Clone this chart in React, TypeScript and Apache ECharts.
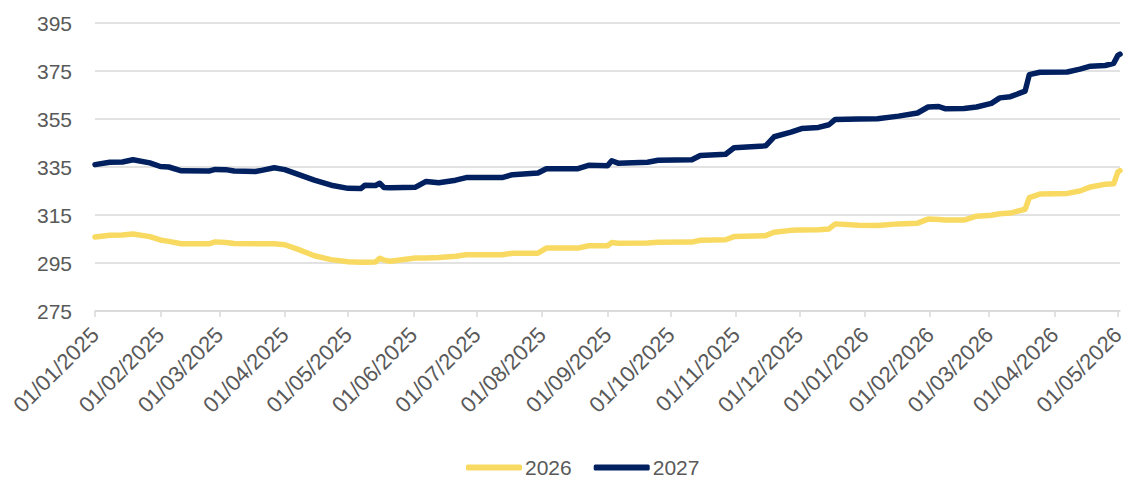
import React, { useEffect, useRef } from "react";
import * as echarts from "echarts";

const dates: string[] = [
  "2025-01-01", "2025-01-08", "2025-01-14", "2025-01-19", "2025-01-27",
  "2025-02-01", "2025-02-05", "2025-02-11", "2025-02-24", "2025-02-27",
  "2025-03-04", "2025-03-08", "2025-03-18", "2025-03-21", "2025-03-27",
  "2025-04-01", "2025-04-07", "2025-04-15", "2025-04-23", "2025-05-01",
  "2025-05-07", "2025-05-09", "2025-05-14", "2025-05-16", "2025-05-18",
  "2025-05-21", "2025-06-02", "2025-06-07", "2025-06-13", "2025-06-21",
  "2025-06-26", "2025-07-13", "2025-07-18", "2025-07-30", "2025-08-03",
  "2025-08-18", "2025-08-23", "2025-09-01", "2025-09-03", "2025-09-06",
  "2025-09-20", "2025-09-25", "2025-10-11", "2025-10-15", "2025-10-27",
  "2025-10-31", "2025-11-15", "2025-11-19", "2025-11-27", "2025-12-02",
  "2025-12-10", "2025-12-15", "2025-12-18", "2025-12-29", "2026-01-07",
  "2026-01-17", "2026-01-26", "2026-01-31", "2026-02-05", "2026-02-08",
  "2026-02-17", "2026-02-23", "2026-03-02", "2026-03-06", "2026-03-11",
  "2026-03-18", "2026-03-20", "2026-03-25", "2026-04-07", "2026-04-13",
  "2026-04-18", "2026-04-25", "2026-04-29", "2026-05-01", "2026-05-02",
];

const values2026: number[] = [
  305.8, 306.6, 306.7, 307.1, 306.0,
  304.6, 304.0, 303.0, 303.0, 303.8,
  303.5, 303.1, 303.0, 303.0, 303.0,
  302.6, 300.8, 298.0, 296.4, 295.5,
  295.3, 295.3, 295.4, 297.0, 296.2,
  295.7, 297.1, 297.1, 297.3, 297.8,
  298.4, 298.4, 299.1, 299.1, 301.2,
  301.2, 302.2, 302.2, 303.5, 303.2,
  303.3, 303.6, 303.7, 304.5, 304.7,
  306.0, 306.4, 307.8, 308.6, 308.8,
  308.9, 309.2, 311.3, 310.7, 310.6,
  311.3, 311.6, 313.3, 313.1, 312.9,
  312.9, 314.5, 314.9, 315.5, 315.8,
  317.4, 322.2, 323.7, 324.0, 325.0,
  326.7, 327.8, 328.0, 333.0, 333.5,
];

const values2027: number[] = [
  336.0, 337.0, 337.1, 338.0, 336.7,
  335.2, 335.0, 333.4, 333.3, 334.0,
  333.9, 333.3, 333.1, 333.6, 334.7,
  333.9, 332.0, 329.5, 327.4, 326.1,
  326.0, 327.4, 327.3, 328.2, 326.5,
  326.4, 326.6, 329.0, 328.4, 329.5,
  330.6, 330.6, 331.8, 332.5, 334.3,
  334.3, 335.7, 335.5, 337.6, 336.6,
  337.0, 337.8, 338.0, 339.8, 340.3,
  343.0, 343.8, 347.6, 349.5, 351.0,
  351.5, 352.6, 354.8, 355.0, 355.1,
  356.2, 357.5, 360.0, 360.2, 359.3,
  359.4, 360.0, 361.5, 363.8, 364.3,
  366.6, 373.5, 374.5, 374.6, 375.8,
  377.0, 377.3, 378.2, 381.5, 382.0,
];

const seriesNames: string[] = ["2026", "2027"];
const yTicks: number[] = [275, 295, 315, 335, 355, 375, 395];

const FONT = "'Liberation Sans', Arial, sans-serif";
const TEXT = "#595959";

function pad(n: number): string {
  return n < 10 ? "0" + n : String(n);
}

export default function App() {
  const ref = useRef<HTMLDivElement>(null);

  useEffect(() => {
    document.body.style.margin = "0";
    if (!ref.current) return;
    const chart = echarts.init(ref.current, undefined, { renderer: "svg" });
    const toPairs = (vals: number[]) => dates.map((d, i) => [d, vals[i]]);
    chart.setOption({
      animation: false,
      textStyle: { fontFamily: FONT },
      grid: {
        left: 95,
        right: 6,
        top: 23,
        bottom: 169,
        outerBoundsMode: "none",
      },
      legend: {
        data: seriesNames,
        top: 457,
        left: 466,
        padding: 0,
        icon: "roundRect",
        itemWidth: 56,
        itemHeight: 6,
        itemGap: 22,
        textStyle: { color: TEXT, fontSize: 21, fontFamily: FONT, padding: [0, 0, 0, -2] },
      },
      xAxis: {
        type: "time",
        min: dates[0],
        max: dates[dates.length - 1],
        minInterval: 28 * 86400000,
        maxInterval: 31 * 86400000,
        splitLine: { show: false },
        axisLine: { show: true, lineStyle: { color: "#D9D9D9", width: 1.5 } },
        axisTick: { show: true, length: 6, lineStyle: { color: "#D9D9D9", width: 1.5 } },
        axisLabel: {
          rotate: 45,
          color: TEXT,
          fontSize: 22,
          fontFamily: FONT,
          margin: 20,
          formatter: (val: number) => {
            const d = new Date(val);
            return pad(d.getDate()) + "/" + pad(d.getMonth() + 1) + "/" + d.getFullYear();
          },
        },
      },
      yAxis: {
        type: "value",
        min: yTicks[0],
        max: yTicks[yTicks.length - 1],
        interval: 20,
        axisLine: { show: false },
        axisTick: { show: false },
        splitLine: { lineStyle: { color: "#D9D9D9", width: 1.5 } },
        axisLabel: { color: TEXT, fontSize: 21, fontFamily: FONT, margin: 23 },
      },
      series: [
        {
          name: seriesNames[0],
          type: "line",
          data: toPairs(values2026),
          showSymbol: false,
          symbol: "none",
          lineStyle: { color: "#F8DA63", width: 5.5, cap: "round", join: "round" },
          itemStyle: { color: "#F8DA63" },
        },
        {
          name: seriesNames[1],
          type: "line",
          data: toPairs(values2027),
          showSymbol: false,
          symbol: "none",
          lineStyle: { color: "#002060", width: 5.5, cap: "round", join: "round" },
          itemStyle: { color: "#002060" },
        },
      ],
    });
    return () => chart.dispose();
  }, []);

  return <div ref={ref} style={{ width: 1126, height: 480 }} />;
}
